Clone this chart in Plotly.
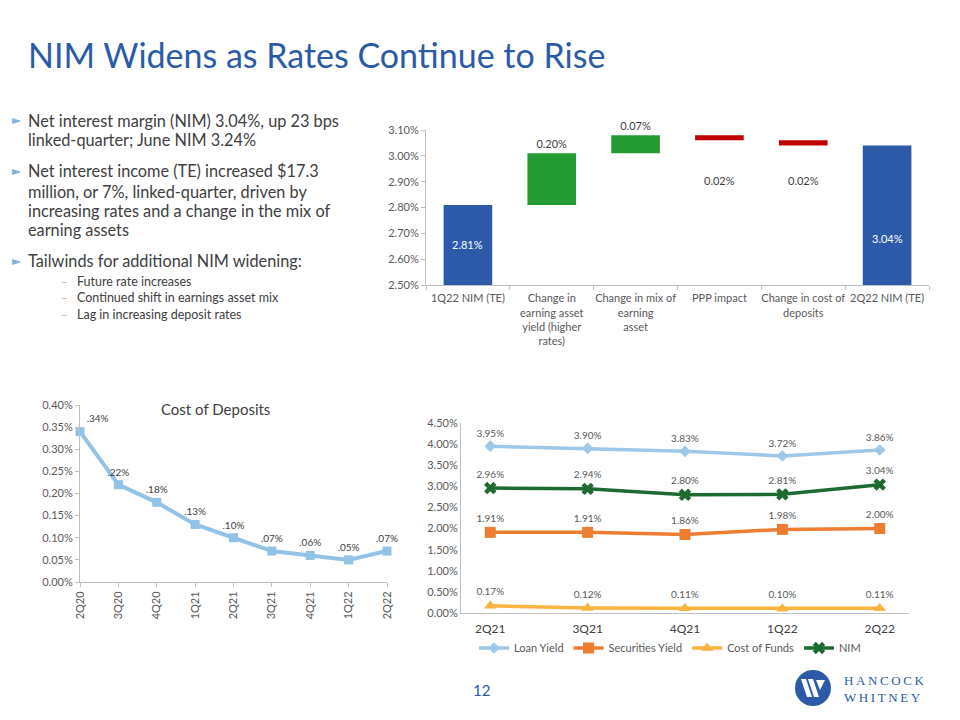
import plotly.graph_objects as go

W, H = 960, 720
OFF = 8  # page body margin compensation
def px(x): return (x - OFF) / W
def py(y): return 1 - (y - OFF) / H

# ---------------- data ----------------
wf_categories = ["1Q22 NIM (TE)", "Change in earning asset yield (higher rates)",
                 "Change in mix of earning asset", "PPP impact",
                 "Change in cost of deposits", "2Q22 NIM (TE)"]
wf_ticktext = ["1Q22 NIM (TE)", "Change in<br>earning asset<br>yield (higher<br>rates)",
               "Change in mix of<br>earning<br>asset", "PPP impact",
               "Change in cost of<br>deposits", "2Q22 NIM (TE)"]
wf_values = [2.81, 0.20, 0.07, -0.02, -0.02, 3.04]
wf_measure = ["absolute", "relative", "relative", "relative", "relative", "total"]

cod_quarters = ["2Q20", "3Q20", "4Q20", "1Q21", "2Q21", "3Q21", "4Q21", "1Q22", "2Q22"]
cod_values = [0.34, 0.22, 0.18, 0.13, 0.10, 0.07, 0.06, 0.05, 0.07]

yield_quarters = ["2Q21", "3Q21", "4Q21", "1Q22", "2Q22"]
loan_yield = [3.95, 3.90, 3.83, 3.72, 3.86]
securities_yield = [1.91, 1.91, 1.86, 1.98, 2.00]
cost_of_funds = [0.17, 0.12, 0.11, 0.10, 0.11]
nim = [2.96, 2.94, 2.80, 2.81, 3.04]

bullets = [
    ["Net interest margin (NIM) 3.04%, up 23 bps", "linked-quarter; June NIM 3.24%"],
    ["Net interest income (TE) increased $17.3", "million, or 7%, linked-quarter, driven by",
     "increasing rates and a change in the mix of", "earning assets"],
    ["Tailwinds for additional NIM widening:"],
]
sub_bullets = ["Future rate increases", "Continued shift in earnings asset mix",
               "Lag in increasing deposit rates"]

FONT = "Lato"
GRAY = "#595959"
TXT = "#404040"
BLUE = "#2B5BA8"
WF_MIN, WF_MAX = 2.5, 3.1

fig = go.Figure()

# ---------------- waterfall ----------------
wf_text = [f"{abs(v):.2f}%" for v in wf_values]
fig.add_trace(go.Waterfall(
    x=wf_categories, y=wf_values, measure=wf_measure,
    text=[t if m == "relative" and v > 0 else "" for t, m, v in zip(wf_text, wf_measure, wf_values)],
    textposition="outside",
    outsidetextfont=dict(color=TXT, size=11, family=FONT),
    increasing=dict(marker=dict(color="#249B33")),
    decreasing=dict(marker=dict(color="#C00000")),
    totals=dict(marker=dict(color="#2C5AA8")),
    connector=dict(visible=False),
    width=0.58, cliponaxis=False, showlegend=False,
    xaxis="x", yaxis="y",
))

# ---------------- cost of deposits ----------------
fig.add_trace(go.Scatter(
    x=cod_quarters, y=cod_values, mode="lines+markers+text",
    text=[f"{v:.2f}%".lstrip("0") for v in cod_values],
    textposition=["top right"] + ["top center"] * (len(cod_values) - 1),
    textfont=dict(size=10, color=TXT, family=FONT),
    line=dict(color="#92C3E6", width=4),
    marker=dict(symbol="square", size=9, color="#92C3E6"),
    cliponaxis=False, showlegend=False,
    xaxis="x2", yaxis="y2",
))

# ---------------- yields ----------------
series = [
    ("Loan Yield", loan_yield, "#9DC8EA", "diamond", 9),
    ("Securities Yield", securities_yield, "#ED7D31", "square", 11),
    ("Cost of Funds", cost_of_funds, "#FBB440", "triangle-up", 11),
    ("NIM", nim, "#1E6B32", "x", 11),
]
for name, vals, col, sym, sz in series:
    fig.add_trace(go.Scatter(
        x=yield_quarters, y=vals, name=name, mode="lines+markers+text",
        text=[f"{v:.2f}%" for v in vals], textposition="top center",
        textfont=dict(size=10, color=GRAY, family=FONT),
        line=dict(color=col, width=3.5),
        marker=dict(symbol=sym, size=sz, color=col),
        cliponaxis=False, xaxis="x3", yaxis="y3",
    ))

axis_common = dict(showgrid=False, zeroline=False, showline=True, linecolor="#BFBFBF",
                   linewidth=1, ticks="outside", ticklen=4, tickcolor="#BFBFBF",
                   automargin=False,
                   tickfont=dict(size=11, color=GRAY, family=FONT))

fig.update_layout(
    width=W, height=H, margin=dict(l=0, r=0, t=0, b=0, pad=0, autoexpand=False),
    paper_bgcolor="white", plot_bgcolor="white",
    font=dict(family=FONT, color=TXT),
    xaxis=dict(axis_common, domain=[px(426), px(929)], anchor="y", type="category",
               tickvals=wf_categories, ticktext=wf_ticktext, tickson="boundaries",
               tickangle=0, ticklabelstandoff=3),
    yaxis=dict(axis_common, domain=[py(285), py(130)], anchor="x",
               range=[WF_MIN, WF_MAX], dtick=0.1, tickformat=".2f", ticksuffix="%"),
    xaxis2=dict(axis_common, domain=[px(80), px(387)], anchor="y2", type="category",
                range=[0, 8], tickangle=-90),
    yaxis2=dict(axis_common, domain=[py(582), py(405)], anchor="x2",
                range=[0, 0.4], dtick=0.05, tickformat=".2f", ticksuffix="%"),
    xaxis3=dict(axis_common, domain=[px(461), px(909)], anchor="y3", type="category",
                ticks="", ticklabelstandoff=5,
                tickfont=dict(size=12, color=TXT, family=FONT)),
    yaxis3=dict(axis_common, domain=[py(613), py(423)], anchor="x3",
                range=[0, 4.5], dtick=0.5, tickformat=".2f", ticksuffix="%", ticks=""),
    legend=dict(orientation="h", x=px(670), y=py(648), xanchor="center", yanchor="middle",
                font=dict(size=11, color=GRAY, family=FONT), bgcolor="rgba(0,0,0,0)",
                itemwidth=30, tracegroupgap=0),
)

ann = []
# waterfall labels for totals (inside, white) and decreases (below)
wf_inside_y = [WF_MIN + 0.155, None, None, None, None, WF_MIN + 0.18]
for cat, t, m, v, iy in zip(wf_categories, wf_text, wf_measure, wf_values, wf_inside_y):
    if m != "relative":
        ann.append(dict(x=cat, y=iy, xref="x", yref="y", text=t, showarrow=False,
                        font=dict(size=11, color="white", family=FONT)))
    elif v < 0:
        ann.append(dict(x=cat, y=2.905, xref="x", yref="y", text=t, showarrow=False,
                        font=dict(size=11, color=TXT, family=FONT)))
# title
ann.append(dict(x=px(26), y=py(55), xref="paper", yref="paper", xanchor="left", yanchor="middle",
                text="NIM Widens as Rates Continue to Rise", showarrow=False,
                font=dict(size=34, color=BLUE, family=FONT)))
# bullets
line_y = [[120, 139], [171, 191, 210, 229], [261]]
for lines, ys in zip(bullets, line_y):
    ann.append(dict(x=px(10), y=py(ys[0]), xref="paper", yref="paper", xanchor="left",
                    yanchor="middle", text="►", showarrow=False,
                    font=dict(size=12, color="#7EB3E0", family="DejaVu Sans")))
    for t, yv in zip(lines, ys):
        ann.append(dict(x=px(26), y=py(yv), xref="paper", yref="paper", xanchor="left",
                        yanchor="middle", text=t, showarrow=False,
                        font=dict(size=16.3, color=TXT, family=FONT)))
for t, yv in zip(sub_bullets, [281, 297, 314]):
    ann.append(dict(x=px(59), y=py(yv), xref="paper", yref="paper", xanchor="left",
                    yanchor="middle", text="–", showarrow=False,
                    font=dict(size=12, color="#E2A868", family=FONT)))
    ann.append(dict(x=px(75), y=py(yv), xref="paper", yref="paper", xanchor="left",
                    yanchor="middle", text=t, showarrow=False,
                    font=dict(size=12.5, color=TXT, family=FONT)))
# cost of deposits title
ann.append(dict(x=px(215), y=py(409), xref="paper", yref="paper", xanchor="center",
                yanchor="middle", text="Cost of Deposits", showarrow=False,
                font=dict(size=15, color=TXT, family=FONT)))
# page number
ann.append(dict(x=px(481), y=py(690), xref="paper", yref="paper", xanchor="center",
                yanchor="middle", text="12", showarrow=False,
                font=dict(size=15, color=BLUE, family=FONT)))
# logo text
ts = "\u2009"
ann.append(dict(x=px(842), y=py(680), xref="paper", yref="paper", xanchor="left",
                yanchor="middle", text=ts.join("HANCOCK"), showarrow=False,
                font=dict(size=13, color=BLUE, family="Liberation Serif")))
ann.append(dict(x=px(842), y=py(697), xref="paper", yref="paper", xanchor="left",
                yanchor="middle", text=ts.join("WHITNEY"), showarrow=False,
                font=dict(size=13, color=BLUE, family="Liberation Serif")))
fig.update_layout(annotations=ann)

def path(points):
    return "M " + " L ".join(f"{px(a):.5f},{py(b):.5f}" for a, b in points) + " Z"

shapes = [
    dict(type="circle", xref="paper", yref="paper", x0=px(795), x1=px(831),
         y0=py(706), y1=py(670), fillcolor=BLUE, line=dict(width=0)),
    dict(type="path", xref="paper", yref="paper",
         path=path([(801, 679), (806, 679), (812, 697), (807, 697)]),
         fillcolor="white", line=dict(width=0)),
    dict(type="path", xref="paper", yref="paper",
         path=path([(808, 679), (813, 679), (819, 697), (814, 697)]),
         fillcolor="white", line=dict(width=0)),
    dict(type="path", xref="paper", yref="paper",
         path=path([(816, 680), (825, 680), (820, 690)]),
         fillcolor="white", line=dict(width=0)),
]
fig.update_layout(shapes=shapes)

fig.write_html("out.html")
